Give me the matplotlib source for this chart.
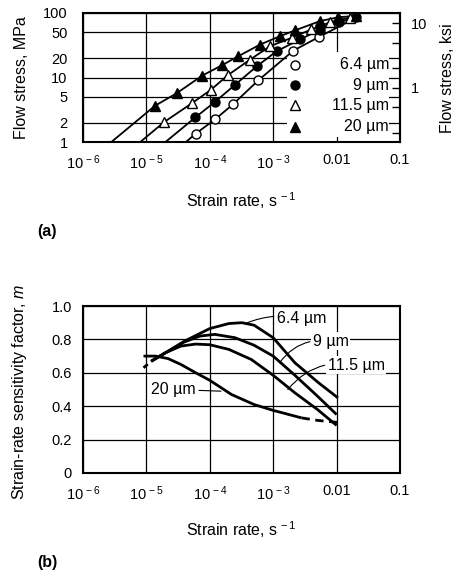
import matplotlib
matplotlib.use('Agg')
import matplotlib.pyplot as plt
from matplotlib.patches import Rectangle

plt.rcParams['font.family'] = ['Liberation Sans', 'DejaVu Sans']
plt.rcParams['mathtext.fontset'] = 'custom'
plt.rcParams['mathtext.rm'] = 'Liberation Sans'
plt.rcParams['mathtext.it'] = 'Liberation Sans:italic'

# (a) flow stress vs strain rate, markers
rate_64 = [6.0e-5, 1.21e-4, 2.36e-4, 5.8e-4, 2.08e-3, 5.2e-3]
stress_64 = [1.35, 2.24, 3.9, 9.0, 26.1, 42.2]
rate_9 = [5.9e-5, 1.21e-4, 2.5e-4, 5.5e-4, 1.13e-3, 2.65e-3, 5.5e-3, 1.1e-2, 2.0e-2]
stress_9 = [2.4, 4.2, 7.7, 14.9, 25.5, 39, 55, 72, 86]
rate_115 = [1.92e-5, 5.2e-5, 1.03e-4, 1.96e-4, 4.3e-4, 8.9e-4, 1.96e-3, 4.0e-3, 8.0e-3, 1.6e-2]
stress_115 = [2.05, 3.98, 6.4, 11.0, 18.9, 30.5, 41.3, 55.6, 72, 85]
rate_20 = [1.37e-5, 3.0e-5, 7.6e-5, 1.54e-4, 2.8e-4, 6.2e-4, 1.28e-3, 2.2e-3, 5.5e-3, 1.07e-2, 2.0e-2]
stress_20 = [3.65, 5.7, 10.7, 15.4, 21.3, 32.4, 43.7, 53.7, 75, 86, 90]

# where the fitted lines leave the bottom of the frame (stress = 1 MPa)
line_start = {'6.4': 4.2e-5, '9': 2.0e-5, '11.5': 8.0e-6, '20': 2.8e-6}
line_end_64 = (2.0e-2, 84)

# (b) strain-rate sensitivity m vs strain rate
m_rate_64 = [1.2e-5, 2e-5, 4e-5, 1e-4, 2e-4, 3.2e-4, 5e-4, 1e-3, 2.2e-3, 5.2e-3, 1.05e-2]
m_64 = [0.67, 0.72, 0.79, 0.865, 0.895, 0.90, 0.885, 0.81, 0.66, 0.54, 0.45]
m_rate_9 = [1.2e-5, 2e-5, 4e-5, 7e-5, 1.2e-4, 2.5e-4, 5e-4, 1e-3, 2.2e-3, 5e-3, 1.0e-2]
m_9 = [0.67, 0.72, 0.785, 0.82, 0.83, 0.81, 0.765, 0.70, 0.585, 0.46, 0.35]
m_rate_115 = [1.2e-5, 2e-5, 3.5e-5, 6e-5, 1e-4, 2e-4, 4.5e-4, 1e-3, 2.2e-3, 5e-3, 1.0e-2]
m_115 = [0.67, 0.72, 0.76, 0.772, 0.768, 0.74, 0.68, 0.585, 0.48, 0.38, 0.285]
m_rate_20 = [9e-6, 1.4e-5, 2.2e-5, 3.5e-5, 6e-5, 1e-4, 2.2e-4, 5e-4, 1e-3, 2.8e-3]
m_20 = [0.70, 0.70, 0.685, 0.65, 0.60, 0.555, 0.47, 0.41, 0.375, 0.33]
m_rate_20_dash = [2.8e-3, 5e-3, 1.25e-2]
m_20_dash = [0.33, 0.315, 0.30]
m_rate_start_dash = [9e-6, 1.2e-5]
m_start_dash = [0.63, 0.67]

xticks = [1e-6, 1e-5, 1e-4, 1e-3, 1e-2, 1e-1]
xlabels = [r'10$^{\,-6}$', r'10$^{\,-5}$', r'10$^{\,-4}$', r'10$^{\,-3}$', '0.01', '0.1']
yticks_a = [1, 2, 5, 10, 20, 50, 100]
yticks_b = [0, 0.2, 0.4, 0.6, 0.8, 1.0]
ksi_ticks = [0.2, 0.5, 1, 2, 5, 10]
ksi_labels = ['', '', '1', '', '', '10']
MPA_PER_KSI = 6.895

W, H = 457, 576
fig = plt.figure(figsize=(W / 100, H / 100), dpi=100)
ax1 = fig.add_axes([83 / W, 1 - 142 / H, 317 / W, 129 / H])
ax2 = fig.add_axes([83 / W, 1 - 473 / H, 317 / W, 167 / H])

for ax in (ax1, ax2):
    ax.set_xscale('log')
    ax.set_xlim(1e-6, 1e-1)
    ax.set_xticks(xticks)
    ax.set_xticklabels(xlabels)
    ax.minorticks_off()
    ax.tick_params(axis='both', length=0, labelsize=10.5)
    ax.tick_params(axis='x', pad=8)
    ax.grid(True, color='black', lw=0.9)
    for s in ax.spines.values():
        s.set_linewidth(1.5)

# ---- (a)
ax1.set_yscale('log')
ax1.set_ylim(1, 100)
ax1.set_yticks(yticks_a)
ax1.set_yticklabels([str(v) for v in yticks_a])
ax1.minorticks_off()
ax1.tick_params(axis='y', pad=11)

series = [
    ('6.4', rate_64, stress_64, 'o', 'white'),
    ('9', rate_9, stress_9, 'o', 'black'),
    ('11.5', rate_115, stress_115, '^', 'white'),
    ('20', rate_20, stress_20, '^', 'black'),
]
for name, r, s, mk, fc in series:
    lr = [line_start[name]] + r
    ls = [1.0] + s
    if name == '6.4':
        lr = lr + [line_end_64[0]]
        ls = ls + [line_end_64[1]]
    ax1.plot(lr, ls, color='black', lw=1.3, zorder=3)
    ax1.plot(r, s, ls='none', marker=mk, ms=6.5, mfc=fc, mec='black', mew=1.0, zorder=4)

# legend block on white, labels right aligned
ax1.add_patch(Rectangle((0.645, 0.04), 0.32, 0.66, transform=ax1.transAxes,
                        facecolor='white', edgecolor='none', zorder=2.5))
leg_y = [0.60, 0.44, 0.285, 0.12]
for (name, r, s, mk, fc), yy in zip(series, leg_y):
    ax1.plot([0.67], [yy], transform=ax1.transAxes, ls='none', marker=mk, ms=6.5,
             mfc=fc, mec='black', mew=1.0, zorder=4, clip_on=False)
    ax1.text(0.965, yy, name + ' \u00b5m', transform=ax1.transAxes, ha='right',
             va='center', fontsize=11.5, zorder=4)

sec = ax1.secondary_yaxis('right', functions=(lambda v: v / MPA_PER_KSI,
                                              lambda v: v * MPA_PER_KSI))
sec.set_yticks(ksi_ticks)
sec.set_yticklabels(ksi_labels)
sec.minorticks_off()
sec.tick_params(direction='in', length=6, width=1.0, labelsize=10.5, pad=8)
sec.spines['right'].set_linewidth(1.5)

fig.text(22 / W, 1 - 78 / H, 'Flow stress, MPa', rotation=90, ha='center', va='center', fontsize=11.5)
fig.text(447 / W, 1 - 78 / H, 'Flow stress, ksi', rotation=90, ha='center', va='center', fontsize=11.5)
fig.text(241 / W, 1 - 201 / H, r'Strain rate, s$^{\,-1}$', ha='center', va='center', fontsize=11.5)
fig.text(37 / W, 1 - 231 / H, '(a)', ha='left', va='center', fontsize=11.5, fontweight='bold')

# ---- (b)
ax2.set_ylim(0, 1.0)
ax2.set_yticks(yticks_b)
ax2.set_yticklabels(['0', '0.2', '0.4', '0.6', '0.8', '1.0'])
ax2.tick_params(axis='y', pad=8)

for r, m in [(m_rate_64, m_64), (m_rate_9, m_9), (m_rate_115, m_115), (m_rate_20, m_20)]:
    ax2.plot(r, m, color='black', lw=2.0, solid_capstyle='butt', zorder=3)
ax2.plot(m_rate_20_dash, m_20_dash, color='black', lw=2.0, ls=(0, (3, 2)), zorder=3)
ax2.plot(m_rate_start_dash, m_start_dash, color='black', lw=2.0, ls=(0, (2, 1.5)), zorder=3)

box = dict(facecolor='white', edgecolor='none', pad=1.0)
arrow = dict(arrowstyle='-', color='black', lw=0.8, shrinkA=1, shrinkB=0)
ax2.annotate('6.4 \u00b5m', xy=(3.8e-4, 0.898), xytext=(1.13e-3, 0.928), fontsize=11.5,
             ha='left', va='center', bbox=box,
             arrowprops=dict(arrow, connectionstyle='arc3,rad=0.15'), zorder=4)
ax2.annotate('9 \u00b5m', xy=(1.26e-3, 0.66), xytext=(4.2e-3, 0.79), fontsize=11.5,
             ha='left', va='center', bbox=box,
             arrowprops=dict(arrow, connectionstyle='arc3,rad=0.3'), zorder=4)
ax2.annotate('11.5 \u00b5m', xy=(1.7e-3, 0.50), xytext=(7.2e-3, 0.645), fontsize=11.5,
             ha='left', va='center', bbox=box,
             arrowprops=dict(arrow, connectionstyle='arc3,rad=0.3'), zorder=4)
ax2.annotate('20 \u00b5m', xy=(1.5e-4, 0.49), xytext=(1.2e-5, 0.50), fontsize=11.5,
             ha='left', va='center', bbox=box,
             arrowprops=dict(arrow, connectionstyle='arc3,rad=0'), zorder=4)

fig.text(20 / W, 1 - 392 / H, r'Strain-rate sensitivity factor, $m$', rotation=90,
         ha='center', va='center', fontsize=11.5)
fig.text(241 / W, 1 - 530 / H, r'Strain rate, s$^{\,-1}$', ha='center', va='center', fontsize=11.5)
fig.text(37 / W, 1 - 563 / H, '(b)', ha='left', va='center', fontsize=11.5, fontweight='bold')

fig.savefig('out.png', dpi=100)
